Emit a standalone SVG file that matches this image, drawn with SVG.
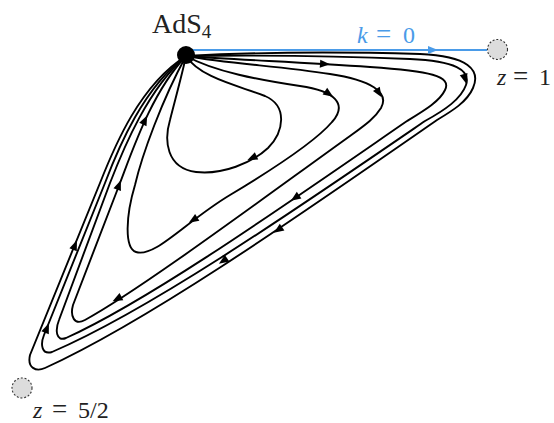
<svg xmlns="http://www.w3.org/2000/svg" width="554" height="423" viewBox="0 0 554 423">
<defs>
<path id="ah" d="M5,0 L-5,-4 L-5,4 Z"/>
</defs>
<style>
.fl{fill:none;stroke:#000;stroke-width:1.9;stroke-linejoin:round;stroke-linecap:round}
.ar{fill:#000}
.t{font-family:"Liberation Serif","Times New Roman",serif;fill:#222}
.i{font-style:italic}
.eq{font-size:27px}
.blue{fill:#4a9be8}
.sing{fill:#dcdcdc;stroke:#333;stroke-width:1.1;stroke-dasharray:2 1.8}
</style>
<rect width="554" height="423" fill="#fff"/>

<g id="flow-lines">
<path id="L1" class="fl" d="M186,56 C200,78 240,86 265,96 C288,106 284,132 268,148 C252,163 222,175 196,172 C166,168 164,140 170,120 C175,100 182,75 186,56"/>
<path id="L2" class="fl" d="M186,56 C215,72 260,80 300,86 C335,91 348,104 332,122 C315,142 275,168 230,195 C185,222 155,258 136,252 C124,248 126,215 135,185 C142,155 162,100 186,56"/>
<path id="L3" class="fl" d="M186,56 C230,64 280,66 330,74 C370,80 390,92 381,108 C375,118 365,125 350,136 C265,197 140,290 85,320 C74,326 70,316 73,305 L120,183 C133,149 152,92 186,56"/>
<path id="L4" class="fl" d="M186,56 C240,60 300,62 370,67 C430,71 452,76 445,90 C440,101 425,110 407,121 C285,205 150,300 66,338 C56,342 55,330 59,320 L110,183 C124,147 148,89 186,56"/>
<path id="L5" class="fl" d="M186,56 C260,55 340,56 410,59 C455,61 471,70 466,85 C461,99 445,110 425,121 C295,210 150,310 52,352 C42,355 40,345 44,335 L105,183 C119,146 144,87 186,56"/>
<path id="L6" class="fl" d="M186,56 C260,52 350,52 420,54 C468,56 481,70 473,88 C467,102 452,111 437,120 C300,215 150,320 45,368 C36,372 27,368 30,355 L100,183 C115,145 140,85 186,56"/>
</g>

<g id="flow-arrows">
<use href="#ah" class="ar" transform="translate(252,158) rotate(155)"/>
<use href="#ah" class="ar" transform="translate(329,94) rotate(35)"/>
<use href="#ah" class="ar" transform="translate(193,220) rotate(148)"/>
<use href="#ah" class="ar" transform="translate(379,93) rotate(58)"/>
<use href="#ah" class="ar" transform="translate(117,299) rotate(152)"/>
<use href="#ah" class="ar" transform="translate(119,185) rotate(-69)"/>
<use href="#ah" class="ar" transform="translate(145,120) rotate(-65)"/>
<use href="#ah" class="ar" transform="translate(325,64) rotate(4)"/>
<use href="#ah" class="ar" transform="translate(295,198) rotate(145)"/>
<use href="#ah" class="ar" transform="translate(465,79) rotate(74)"/>
<use href="#ah" class="ar" transform="translate(223,261) rotate(146)"/>
<use href="#ah" class="ar" transform="translate(47,328) rotate(-68)"/>
<use href="#ah" class="ar" transform="translate(278,230) rotate(145)"/>
<use href="#ah" class="ar" transform="translate(75,245) rotate(-68)"/>
</g>

<g id="k0-line">
<line x1="186" y1="50" x2="487" y2="50" stroke="#4a9be8" stroke-width="2"/>
<use href="#ah" class="blue" transform="translate(433,50)"/>
<text class="t" x="357" y="43" font-size="24"><tspan class="i blue">k</tspan><tspan class="blue eq" x="376">=</tspan><tspan class="blue" x="403">0</tspan></text>
</g>

<g id="ads4">
<circle cx="186" cy="55" r="9" fill="#000"/>
<text class="t" x="152" y="33" font-size="28">AdS<tspan font-size="19" dy="5">4</tspan></text>
</g>

<g id="z1">
<circle class="sing" cx="497.5" cy="49.5" r="10"/>
<text class="t" x="497" y="85" font-size="24"><tspan class="i">z</tspan><tspan class="eq" x="513">=</tspan><tspan x="539">1</tspan></text>
</g>

<g id="z52">
<circle class="sing" cx="22" cy="388" r="10"/>
<text class="t" x="33" y="418" font-size="24"><tspan class="i">z</tspan><tspan class="eq" x="52">=</tspan><tspan x="78">5/2</tspan></text>
</g>
</svg>
